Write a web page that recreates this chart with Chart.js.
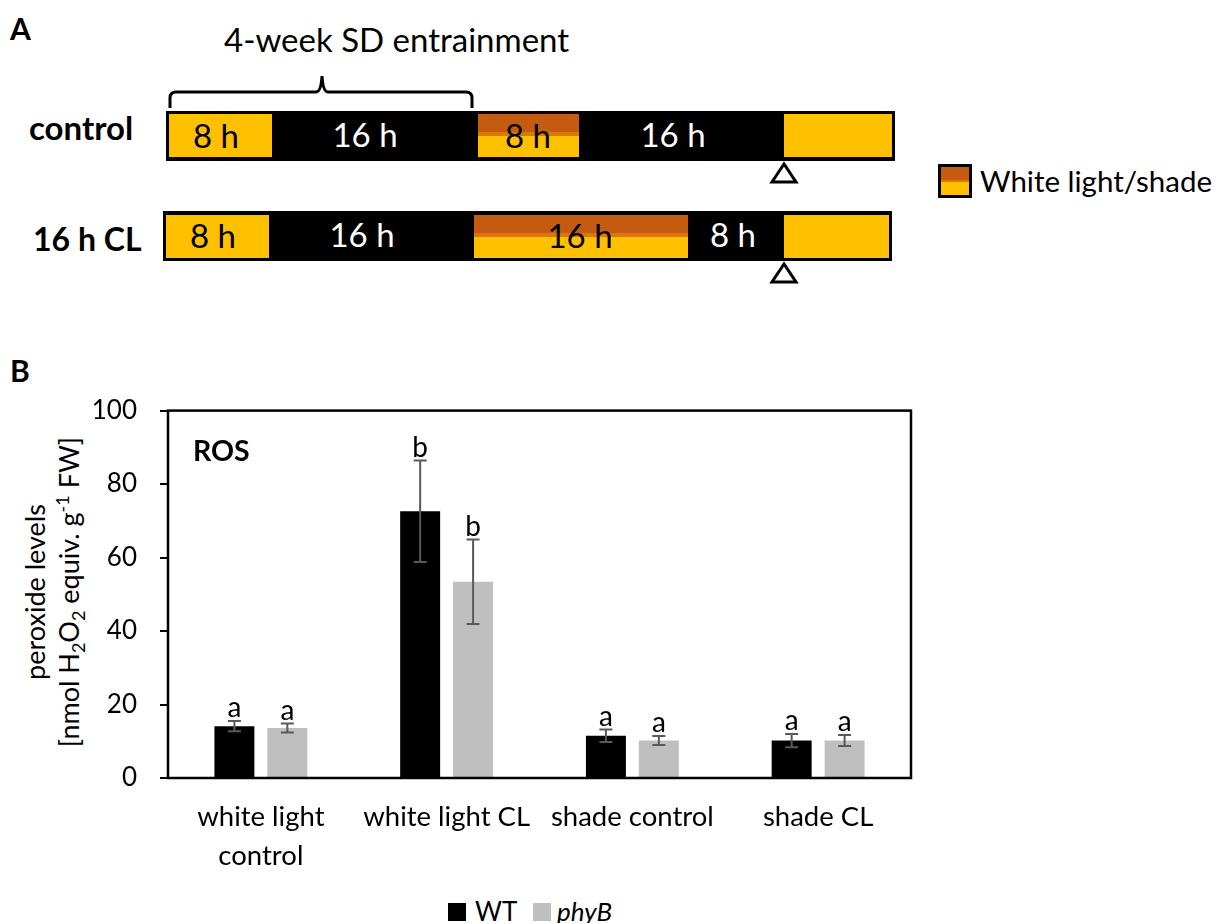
<!DOCTYPE html>
<html>
<head>
<meta charset="utf-8">
<script src="https://cdn.jsdelivr.net/npm/chart.js@4.4.1/dist/chart.umd.min.js"></script>
<style>
  html, body { margin:0; padding:0; background:#fff; }
  body { width:1217px; height:923px; position:relative; overflow:hidden; font-family: Lato, "Open Sans", sans-serif; color:#000; }
  .abs { position:absolute; }
  .seg { position:absolute; }
  .lbl { position:absolute; text-align:center; font-size:33px; line-height:43px; white-space:nowrap; }
  .yellow { background:#FFC000; }
  .shade { background: linear-gradient(to bottom, #C55A11 0%, #C55A11 43%, #DA780C 43%, #DA780C 52%, #FFC000 52%, #FFC000 100%); }
  #chartB { position:absolute; left:0; top:372px; }
</style>
</head>
<body>
<!-- Panel A (schematic) -->
<div class="abs" style="left:10px; top:10px; font-weight:700; font-size:30px; line-height:36px;">A</div>
<div class="abs" style="left:224px; top:19px; font-size:33px; line-height:40px; white-space:nowrap;">4-week SD entrainment</div>
<svg class="abs" style="left:0; top:0;" width="1217" height="330">
  <path d="M170,108 L170,98 Q170,92 176,92 L316,92 Q321,92 322,76 Q323,92 328,92 L466,92 Q472,92 472,98 L472,108" fill="none" stroke="#000" stroke-width="3"/>
  <polygon points="784,164 772,182 796,182" fill="#fff" stroke="#000" stroke-width="3"/>
  <polygon points="784,264 772,282 796,282" fill="#fff" stroke="#000" stroke-width="3"/>
</svg>
<div class="abs" style="left:29px; top:107px; font-weight:700; font-size:33px; line-height:40px;">control</div>
<div class="abs" style="left:33px; top:219px; font-weight:700; font-size:32px; line-height:40px;">16 h CL</div>

<!-- control bar -->
<div class="abs" style="left:166px; top:111px; width:729px; height:50px; background:#000;"></div>
<div class="seg yellow" style="left:169px; top:114px; width:103px; height:43px;"></div>
<div class="seg shade" style="left:478px; top:114px; width:101px; height:43px;"></div>
<div class="seg yellow" style="left:784px; top:114px; width:108px; height:43px;"></div>
<div class="lbl" style="left:166px; top:114px; width:100px;">8 h</div>
<div class="lbl" style="left:315px; top:113px; width:100px; color:#fff;">16 h</div>
<div class="lbl" style="left:478px; top:114px; width:100px;">8 h</div>
<div class="lbl" style="left:623px; top:113px; width:100px; color:#fff;">16 h</div>

<!-- 16 h CL bar -->
<div class="abs" style="left:163px; top:211px; width:729px; height:50px; background:#000;"></div>
<div class="seg yellow" style="left:166px; top:215px; width:103px; height:43px;"></div>
<div class="seg shade" style="left:474px; top:215px; width:214px; height:43px;"></div>
<div class="seg yellow" style="left:784px; top:215px; width:105px; height:43px;"></div>
<div class="lbl" style="left:163px; top:214px; width:100px;">8 h</div>
<div class="lbl" style="left:312px; top:213px; width:100px; color:#fff;">16 h</div>
<div class="lbl" style="left:530px; top:214px; width:100px;">16 h</div>
<div class="lbl" style="left:683px; top:213px; width:100px; color:#fff;">8 h</div>

<!-- shade legend -->
<div class="abs" style="left:938px; top:164px; width:28px; height:28px; border:3px solid #000; background: linear-gradient(to bottom, #C55A11 0%, #C55A11 45%, #DA780C 45%, #DA780C 55%, #FFC000 55%);"></div>
<div class="abs" style="left:980px; top:163px; font-size:29.5px; line-height:36px; white-space:nowrap;">White light/shade</div>

<!-- Panel B -->
<div class="abs" style="left:10px; top:352px; font-weight:700; font-size:30px; line-height:36px;">B</div>
<div class="abs" style="left:52px; top:592px; width:0; height:0;">
  <div style="position:absolute; left:0; top:0; transform: translate(-50%,-50%) rotate(-90deg); text-align:center; font-size:27px; line-height:34px; white-space:nowrap;">
    peroxide levels<br>[nmol H<sub style="font-size:18px; line-height:0;">2</sub>O<sub style="font-size:18px; line-height:0;">2</sub> equiv. g<sup style="font-size:18px; line-height:0;">-1</sup> FW]
  </div>
</div>
<canvas id="chartB" width="1217" height="508"></canvas>

<!-- genotype legend -->
<div class="abs" style="left:448px; top:903px; width:18px; height:18px; background:#000;"></div>
<div class="abs" style="left:475px; top:895px; font-size:26px; line-height:32px;">WT</div>
<div class="abs" style="left:533px; top:903px; width:18px; height:18px; background:#BFBFBF;"></div>
<div class="abs" style="left:557px; top:895px; font-size:26px; line-height:32px; font-style:italic;">phyB</div>

<script>
// ---- data ----
const categories = [["white light", "control"], "white light CL", "shade control", "shade CL"];
const seriesNames = ["WT", "phyB"];
const wtValues = [14.1, 72.6, 11.5, 10.2];
const wtErrors = [1.4, 13.8, 1.7, 1.8];
const phyBValues = [13.6, 53.4, 10.2, 10.2];
const phyBErrors = [1.2, 11.5, 1.2, 1.5];
const wtLetters = ["a", "b", "a", "a"];
const phyBLetters = ["a", "b", "a", "a"];
const yTicks = [0, 20, 40, 60, 80, 100];
const panelLabel = "ROS";

const errorSets = [wtErrors, phyBErrors];
const letterSets = [wtLetters, phyBLetters];

const overlay = {
  id: 'overlay',
  afterDatasetsDraw(chart) {
    const ctx = chart.ctx;
    const ys = chart.scales.y;
    const a = chart.chartArea;
    ctx.save();
    chart.data.datasets.forEach((ds, di) => {
      const meta = chart.getDatasetMeta(di);
      meta.data.forEach((bar, i) => {
        const v = ds.data[i], e = errorSets[di][i];
        const x = bar.x;
        const yt = ys.getPixelForValue(v + e);
        const yb = ys.getPixelForValue(v - e);
        ctx.strokeStyle = '#595959';
        ctx.lineWidth = 2;
        ctx.beginPath();
        ctx.moveTo(x, yt); ctx.lineTo(x, yb);
        ctx.moveTo(x - 6.5, yt); ctx.lineTo(x + 6.5, yt);
        ctx.moveTo(x - 6.5, yb); ctx.lineTo(x + 6.5, yb);
        ctx.stroke();
        ctx.fillStyle = '#000';
        ctx.font = '28px Lato';
        ctx.textAlign = 'center';
        ctx.textBaseline = 'alphabetic';
        ctx.fillText(letterSets[di][i], x, yt - 4);
      });
    });
    ctx.strokeStyle = '#000';
    ctx.lineWidth = 2.5;
    ctx.strokeRect(a.left, a.top, a.right - a.left, a.bottom - a.top);
    ctx.fillStyle = '#000';
    ctx.font = 'bold 28.5px Lato';
    ctx.textAlign = 'left';
    ctx.textBaseline = 'alphabetic';
    ctx.fillText(panelLabel, a.left + 25, a.top + 50);
    ctx.restore();
  }
};

new Chart(document.getElementById('chartB'), {
  type: 'bar',
  data: {
    labels: categories,
    datasets: [
      { label: seriesNames[0], data: wtValues, backgroundColor: '#000000', borderWidth: 0 },
      { label: seriesNames[1], data: phyBValues, backgroundColor: '#BFBFBF', borderWidth: 0 }
    ]
  },
  options: {
    responsive: false,
    animation: false,
    datasets: { bar: { categoryPercentage: 0.57, barPercentage: 0.755 } },
    layout: { padding: { top: 22, right: 306, left: 0, bottom: 0 } },
    plugins: { legend: { display: false }, tooltip: { enabled: false } },
    scales: {
      x: {
        grid: { display: false },
        border: { display: false },
        ticks: { color: '#000', font: { family: 'Lato', size: 27.5, lineHeight: 1.4 }, padding: 12, maxRotation: 0, autoSkip: false },
        afterFit: (s) => { s.height = 102; }
      },
      y: {
        min: 0, max: 100,
        afterBuildTicks: (s) => { s.ticks = yTicks.map(v => ({ value: v })); },
        grid: { drawOnChartArea: false, drawTicks: true, tickLength: 8, color: '#000', lineWidth: 2 },
        border: { display: false },
        ticks: { color: '#000', font: { family: 'Lato', size: 26 }, padding: 23 },
        afterFit: (s) => { s.width = 168; }
      }
    }
  },
  plugins: [overlay]
});
</script>
</body>
</html>
